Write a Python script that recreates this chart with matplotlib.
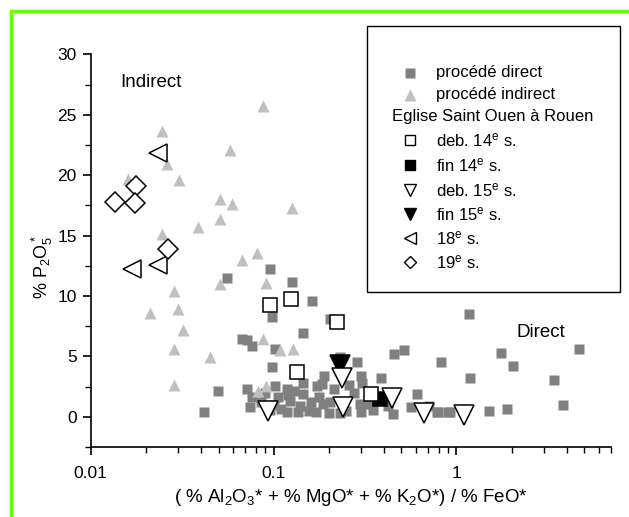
import numpy as np
import matplotlib
matplotlib.use('Agg')
import matplotlib.pyplot as plt
from matplotlib.lines import Line2D
from matplotlib.patches import Rectangle

plt.rcParams['font.family'] = ['Liberation Sans', 'DejaVu Sans']
plt.rcParams['mathtext.default'] = 'regular'

# procede direct (grey squares)
direct_x = [0.0557, 0.095, 0.126, 0.163, 0.0983, 0.203, 0.1446, 0.0668, 0.0718, 0.076,
            0.1016, 0.232, 0.0978, 0.286, 0.456, 0.515, 0.821, 0.189, 0.1452, 0.172,
            0.183, 0.299, 0.304, 0.389, 0.214, 0.276, 0.0498, 0.0712, 0.1016, 0.1177,
            0.076, 0.106, 0.123, 0.1452, 0.178, 0.203, 0.0744, 0.110, 0.136, 0.157,
            0.186, 0.118, 0.25, 0.296, 0.30, 0.334, 0.45, 0.61, 0.565, 0.71,
            0.78, 0.0418, 0.9, 1.17, 4.66, 1.75, 2.04, 1.19, 3.41, 3.82,
            1.50, 1.90, 0.92, 0.79, 0.085, 0.09, 0.095, 0.13, 0.16, 0.2,
            0.23, 0.35, 0.42, 0.12, 0.1, 0.14, 0.17, 0.26]
direct_y = [11.5, 12.2, 11.16, 9.59, 8.3, 8.13, 6.92, 6.42, 6.36, 5.87,
            5.6, 4.99, 4.1, 4.5, 5.18, 5.54, 4.5, 3.39, 2.84, 2.56,
            2.7, 3.39, 2.78, 3.2, 2.29, 2.0, 2.15, 2.29, 2.51, 2.29,
            1.6, 1.68, 1.32, 1.88, 1.6, 1.19, 0.78, 0.64, 0.36, 0.5,
            1.05, 0.41, 0.5, 1.05, 0.36, 1.05, 0.22, 1.88, 0.78, 0.91,
            0.36, 0.36, 0.36, 8.54, 5.6, 5.26, 4.17, 3.25, 3.03, 0.97,
            0.47, 0.64, 0.36, 0.41, 1.2, 2.0, 0.6, 2.1, 1.2, 0.3,
            0.35, 0.6, 0.9, 1.8, 1.0, 0.9, 0.4, 2.6]

# procede indirect (light grey triangles)
indirect_x = [0.0245, 0.0873, 0.0575, 0.0262, 0.01605, 0.0304, 0.0509, 0.0594, 0.0509, 0.0384,
              0.0246, 0.0668, 0.0807, 0.126, 0.051, 0.0285, 0.0301, 0.021, 0.0321, 0.0286,
              0.045, 0.0286, 0.0871, 0.1082, 0.127, 0.0908, 0.0818, 0.0904]
indirect_y = [23.7, 25.7, 22.1, 20.97, 19.7, 19.64, 18.05, 17.66, 16.34, 15.7,
              15.1, 13.0, 13.6, 17.25, 10.97, 10.4, 8.96, 8.6, 7.19, 5.6,
              4.96, 2.62, 6.42, 5.54, 5.6, 2.51, 2.1, 11.05]

# Eglise Saint Ouen a Rouen
deb14_x = [0.0958, 0.125, 0.2227, 0.134, 0.339]
deb14_y = [9.23, 9.78, 7.85, 3.67, 1.90]
fin14_x = [0.381]
fin14_y = [1.46]
deb15_x = [0.0934, 0.238, 0.24, 0.445, 0.663, 1.096]
deb15_y = [0.5, 3.25, 0.83, 1.55, 0.28, 0.17]
fin15_x = [0.231]
fin15_y = [4.27]
s18_x = [0.01675, 0.02323, 0.0232]
s18_y = [12.26, 12.56, 21.85]
s19_x = [0.01768, 0.0136, 0.01753, 0.02635]
s19_y = [19.1, 17.8, 17.7, 13.9]

FS = 12
W, H = 629, 517
fig = plt.figure(figsize=(W / 100, H / 100), dpi=100)
ax = fig.add_axes([90.7 / W, 1 - 447 / H, (611 - 90.7) / W, (447 - 54.5) / H])

ax.plot(direct_x, direct_y, 's', ms=6.5, color='#808080', mec='none', zorder=2)
ax.plot(indirect_x, indirect_y, '^', ms=8.5, color='#c0c0c0', mec='none', zorder=2)
ax.plot(deb14_x, deb14_y, 's', ms=10, mfc='white', mec='black', mew=1.1, zorder=4)
ax.plot(fin14_x, fin14_y, 's', ms=10, mfc='black', mec='black', mew=1.1, zorder=3)
ax.plot(deb15_x, deb15_y, 'v', ms=14, mfc='white', mec='black', mew=1.1, zorder=5)
ax.plot(fin15_x, fin15_y, 'v', ms=14, mfc='black', mec='black', mew=1.1, zorder=4)
ax.plot(s18_x, s18_y, '<', ms=13, mfc='white', mec='black', mew=1.1, zorder=4)
ax.plot(s19_x, s19_y, 'D', ms=10, mfc='white', mec='black', mew=1.1, zorder=4)

ax.text(0.0145, 27.65, 'Indirect', fontsize=13.5, va='center', ha='left')
ax.text(2.13, 7.0, 'Direct', fontsize=13.5, va='center', ha='left')

ax.set_xscale('log')
ax.set_xlim(0.01, 7)
ax.set_ylim(-2.5, 30)
ax.set_yticks([0, 5, 10, 15, 20, 25, 30])
ax.set_yticks(np.arange(-2.5, 30, 5), minor=True)
ax.set_xticks([0.01, 0.1, 1])
ax.set_xticklabels(['0.01', '0.1', '1'])
for s in ['top', 'right']:
    ax.spines[s].set_visible(False)
for s in ['left', 'bottom']:
    ax.spines[s].set_linewidth(1.2)
ax.tick_params(which='major', direction='out', length=6, width=1.2, labelsize=12.5, pad=4)
ax.tick_params(which='minor', direction='out', length=4, width=1.0)
ax.tick_params(axis='x', which='major', pad=8)

fig.text(42 / W, 1 - 267 / H, r'% P$_2$O$_5^*$', rotation=90, fontsize=13,
         ha='center', va='center')
fig.text(351 / W, 1 - 497 / H, r'( % Al$_2$O$_3$* + % MgO* + % K$_2$O*) / % FeO*',
         fontsize=13.5, ha='center', va='center')

# legend box
fig.add_artist(Rectangle((367 / W, 1 - 292 / H), (620 - 367) / W, (292 - 26) / H,
                         transform=fig.transFigure, fill=False, ec='black', lw=1.0))
entries = [
    ('s', 6.5, '#808080', 'none', 'procédé direct'),
    ('^', 8, '#c0c0c0', 'none', 'procédé indirect'),
    (None, 0, None, None, 'Eglise Saint Ouen à Rouen'),
    ('s', 7, 'white', 'black', r'deb. 14$^e$ s.'),
    ('s', 7, 'black', 'black', r'fin 14$^e$ s.'),
    ('v', 9, 'white', 'black', r'deb. 15$^e$ s.'),
    ('v', 9, 'black', 'black', r'fin 15$^e$ s.'),
    ('<', 9, 'white', 'black', r'18$^e$ s.'),
    ('D', 6.5, 'white', 'black', r'19$^e$ s.'),
]
rows = [73, 95, 117, 140, 165, 190, 214, 238, 262]
for (m, ms, fc, ec, label), ry in zip(entries, rows):
    yy = 1 - ry / H
    if m is None:
        fig.text(392 / W, yy, label, fontsize=FS, ha='left', va='center')
        continue
    fig.add_artist(Line2D([410 / W], [yy], transform=fig.transFigure, marker=m, ms=ms,
                          mfc=fc, mec=ec, mew=1.0, ls='none'))
    fig.text(436 / W, yy, label, fontsize=FS, ha='left', va='center')

# green frame on the left and top
fig.add_artist(Line2D([11 / W, 11 / W, 1], [0, 1 - 11 / H, 1 - 11 / H],
                      transform=fig.transFigure, color='#66ff00', lw=2.5))

fig.savefig('out.png', dpi=100)
